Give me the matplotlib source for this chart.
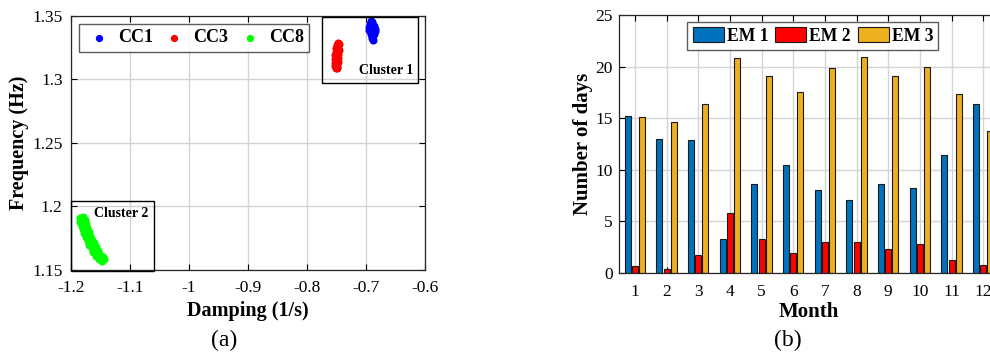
import matplotlib
matplotlib.use("Agg")
import matplotlib.pyplot as plt
from matplotlib.patches import Rectangle
import numpy as np

plt.rcParams['font.family'] = ['Liberation Serif', 'DejaVu Serif']

# ---- panel (a): damping / frequency scatter ----
cc1_x = [-0.692, -0.690, -0.693, -0.689, -0.695, -0.692, -0.687, -0.685, -0.695, -0.691,
         -0.688, -0.684, -0.693, -0.690, -0.686, -0.692, -0.688, -0.690, -0.689, -0.688]
cc1_y = [1.346, 1.345, 1.344, 1.343, 1.341, 1.342, 1.342, 1.340, 1.339, 1.340,
         1.339, 1.338, 1.338, 1.337, 1.336, 1.336, 1.335, 1.334, 1.333, 1.331]

cc3_x = [-0.748, -0.746, -0.750, -0.747, -0.751, -0.748, -0.746, -0.751, -0.749, -0.747, -0.752,
         -0.749, -0.747, -0.752, -0.750, -0.748, -0.752, -0.749, -0.752, -0.750, -0.749, -0.751]
cc3_y = [1.329, 1.328, 1.327, 1.326, 1.325, 1.324, 1.323, 1.322, 1.321, 1.320, 1.319,
         1.318, 1.317, 1.316, 1.315, 1.314, 1.313, 1.312, 1.311, 1.310, 1.309, 1.309]

cc8_x = [-1.185, -1.180, -1.184, -1.177, -1.182, -1.175, -1.180, -1.173, -1.178, -1.170,
         -1.175, -1.167, -1.172, -1.164, -1.169, -1.161, -1.165, -1.158, -1.162, -1.154,
         -1.158, -1.150, -1.153, -1.146, -1.148, -1.144]
cc8_y = [1.191, 1.192, 1.188, 1.189, 1.185, 1.186, 1.182, 1.183, 1.179, 1.180,
         1.176, 1.177, 1.173, 1.174, 1.170, 1.171, 1.167, 1.168, 1.164, 1.165,
         1.161, 1.162, 1.159, 1.160, 1.157, 1.159]

# ---- panel (b): number of days per month ----
months = np.arange(1, 13)
em1 = [15.25, 12.98, 12.89, 3.33, 8.59, 10.5, 8.07, 7.04, 8.62, 8.2, 11.43, 16.4]
em2 = [0.65, 0.42, 1.74, 5.85, 3.33, 1.97, 3.0, 3.04, 2.33, 2.81, 1.26, 0.78]
em3 = [15.1, 14.6, 16.4, 20.8, 19.1, 17.5, 19.9, 20.9, 19.1, 20.0, 17.3, 13.8]

blue = (0, 0.447, 0.741)
red = (1, 0, 0)
gold = (0.929, 0.694, 0.125)
gridc = '#d4d4d4'

fig = plt.figure(figsize=(9.9, 3.56), dpi=100)


def style(ax):
    ax.tick_params(direction='in', length=4, width=0.8, top=True, right=True,
                   labelsize=12.5, colors='black')
    for s in ax.spines.values():
        s.set_linewidth(0.9)
        s.set_color('#262626')


# (a)
ax1 = fig.add_axes([0.0717, 0.2416, 0.3576, 0.7135])
xt = [-1.2, -1.1, -1.0, -0.9, -0.8, -0.7, -0.6]
yt = [1.15, 1.2, 1.25, 1.3, 1.35]
for v in xt:
    ax1.axvline(v, color=gridc, lw=1, zorder=0)
for v in yt:
    ax1.axhline(v, color=gridc, lw=1, zorder=0)
ax1.scatter(cc1_x, cc1_y, s=34, color='#0000ff', label='CC1', zorder=3, linewidths=0)
ax1.scatter(cc3_x, cc3_y, s=34, color='#ff0000', label='CC3', zorder=3, linewidths=0)
ax1.scatter(cc8_x, cc8_y, s=34, color='#00ff00', label='CC8', zorder=3, linewidths=0)
ax1.add_patch(Rectangle((-0.7754, 1.2972), 0.1634, 0.052, fill=False, ec='black', lw=1, zorder=4))
ax1.add_patch(Rectangle((-1.1994, 1.1495), 0.1393, 0.0549, fill=False, ec='black', lw=1,
                        zorder=4, clip_on=False))
ax1.text(-0.62, 1.302, 'Cluster 1', fontsize=10, fontweight='bold', ha='right', va='bottom')
ax1.text(-1.069, 1.1995, 'Cluster 2', fontsize=10, fontweight='bold', ha='right', va='top')
ax1.set_xlim(-1.2, -0.6)
ax1.set_ylim(1.15, 1.35)
ax1.set_xticks(xt)
ax1.set_xticklabels(['-1.2', '-1.1', '-1', '-0.9', '-0.8', '-0.7', '-0.6'])
ax1.set_yticks(yt)
ax1.set_yticklabels(['1.15', '1.2', '1.25', '1.3', '1.35'])
style(ax1)
ax1.tick_params(axis='x', pad=7)
ax1.tick_params(axis='y', pad=6)
ax1.set_xlabel('Damping (1/s)', fontsize=14.5, fontweight='bold', labelpad=4)
ax1.set_ylabel('Frequency (Hz)', fontsize=14.5, fontweight='bold', labelpad=2)
leg1 = ax1.legend(loc='upper left', bbox_to_anchor=(0.0226, 0.9685), ncol=3, frameon=True,
                  fancybox=False, prop={'weight': 'bold', 'size': 13}, markerscale=0.9,
                  handletextpad=0.25, columnspacing=0.4, borderpad=0.3, handlelength=1.6,
                  borderaxespad=0)
leg1.get_frame().set_edgecolor('#333333')
leg1.get_frame().set_linewidth(1)
leg1.set_zorder(5)

# (b)
ax2 = fig.add_axes([0.6253, 0.2331, 0.3838, 0.7247])
for v in months:
    ax2.axvline(v, color=gridc, lw=1, zorder=0)
for v in range(0, 26, 5):
    ax2.axhline(v, color=gridc, lw=1, zorder=0)
w = 0.19
off = 0.225
ax2.bar(months - off, em1, w, color=blue, edgecolor='#1a1a1a', lw=0.8, label='EM 1', zorder=2)
ax2.bar(months, em2, w, color=red, edgecolor='#1a1a1a', lw=0.8, label='EM 2', zorder=2)
ax2.bar(months + off, em3, w, color=gold, edgecolor='#1a1a1a', lw=0.8, label='EM 3', zorder=2)
ax2.set_xlim(0.5, 12.5)
ax2.set_ylim(0, 25)
ax2.set_xticks(months)
ax2.set_yticks(range(0, 26, 5))
style(ax2)
ax2.tick_params(axis='x', pad=8)
ax2.tick_params(axis='y', pad=4.5)
ax2.set_xlabel('Month', fontsize=15, fontweight='bold', labelpad=1)
ax2.set_ylabel('Number of days', fontsize=15, fontweight='bold', labelpad=2)
leg2 = ax2.legend(loc='upper left', bbox_to_anchor=(0.18, 0.973), ncol=3, frameon=True,
                  fancybox=False, prop={'weight': 'bold', 'size': 12.7},
                  handlelength=1.75, handleheight=0.9, handletextpad=0.17,
                  columnspacing=0.4, borderpad=0.3, borderaxespad=0)
leg2.get_frame().set_edgecolor('#333333')
leg2.get_frame().set_linewidth(1)
leg2.set_zorder(5)

fig.text(224 / 990, 1 - 340 / 356, '(a)', fontsize=17, ha='center', va='center')
fig.text(788 / 990, 1 - 340 / 356, '(b)', fontsize=17, ha='center', va='center')

fig.savefig('out.png', dpi=100)
